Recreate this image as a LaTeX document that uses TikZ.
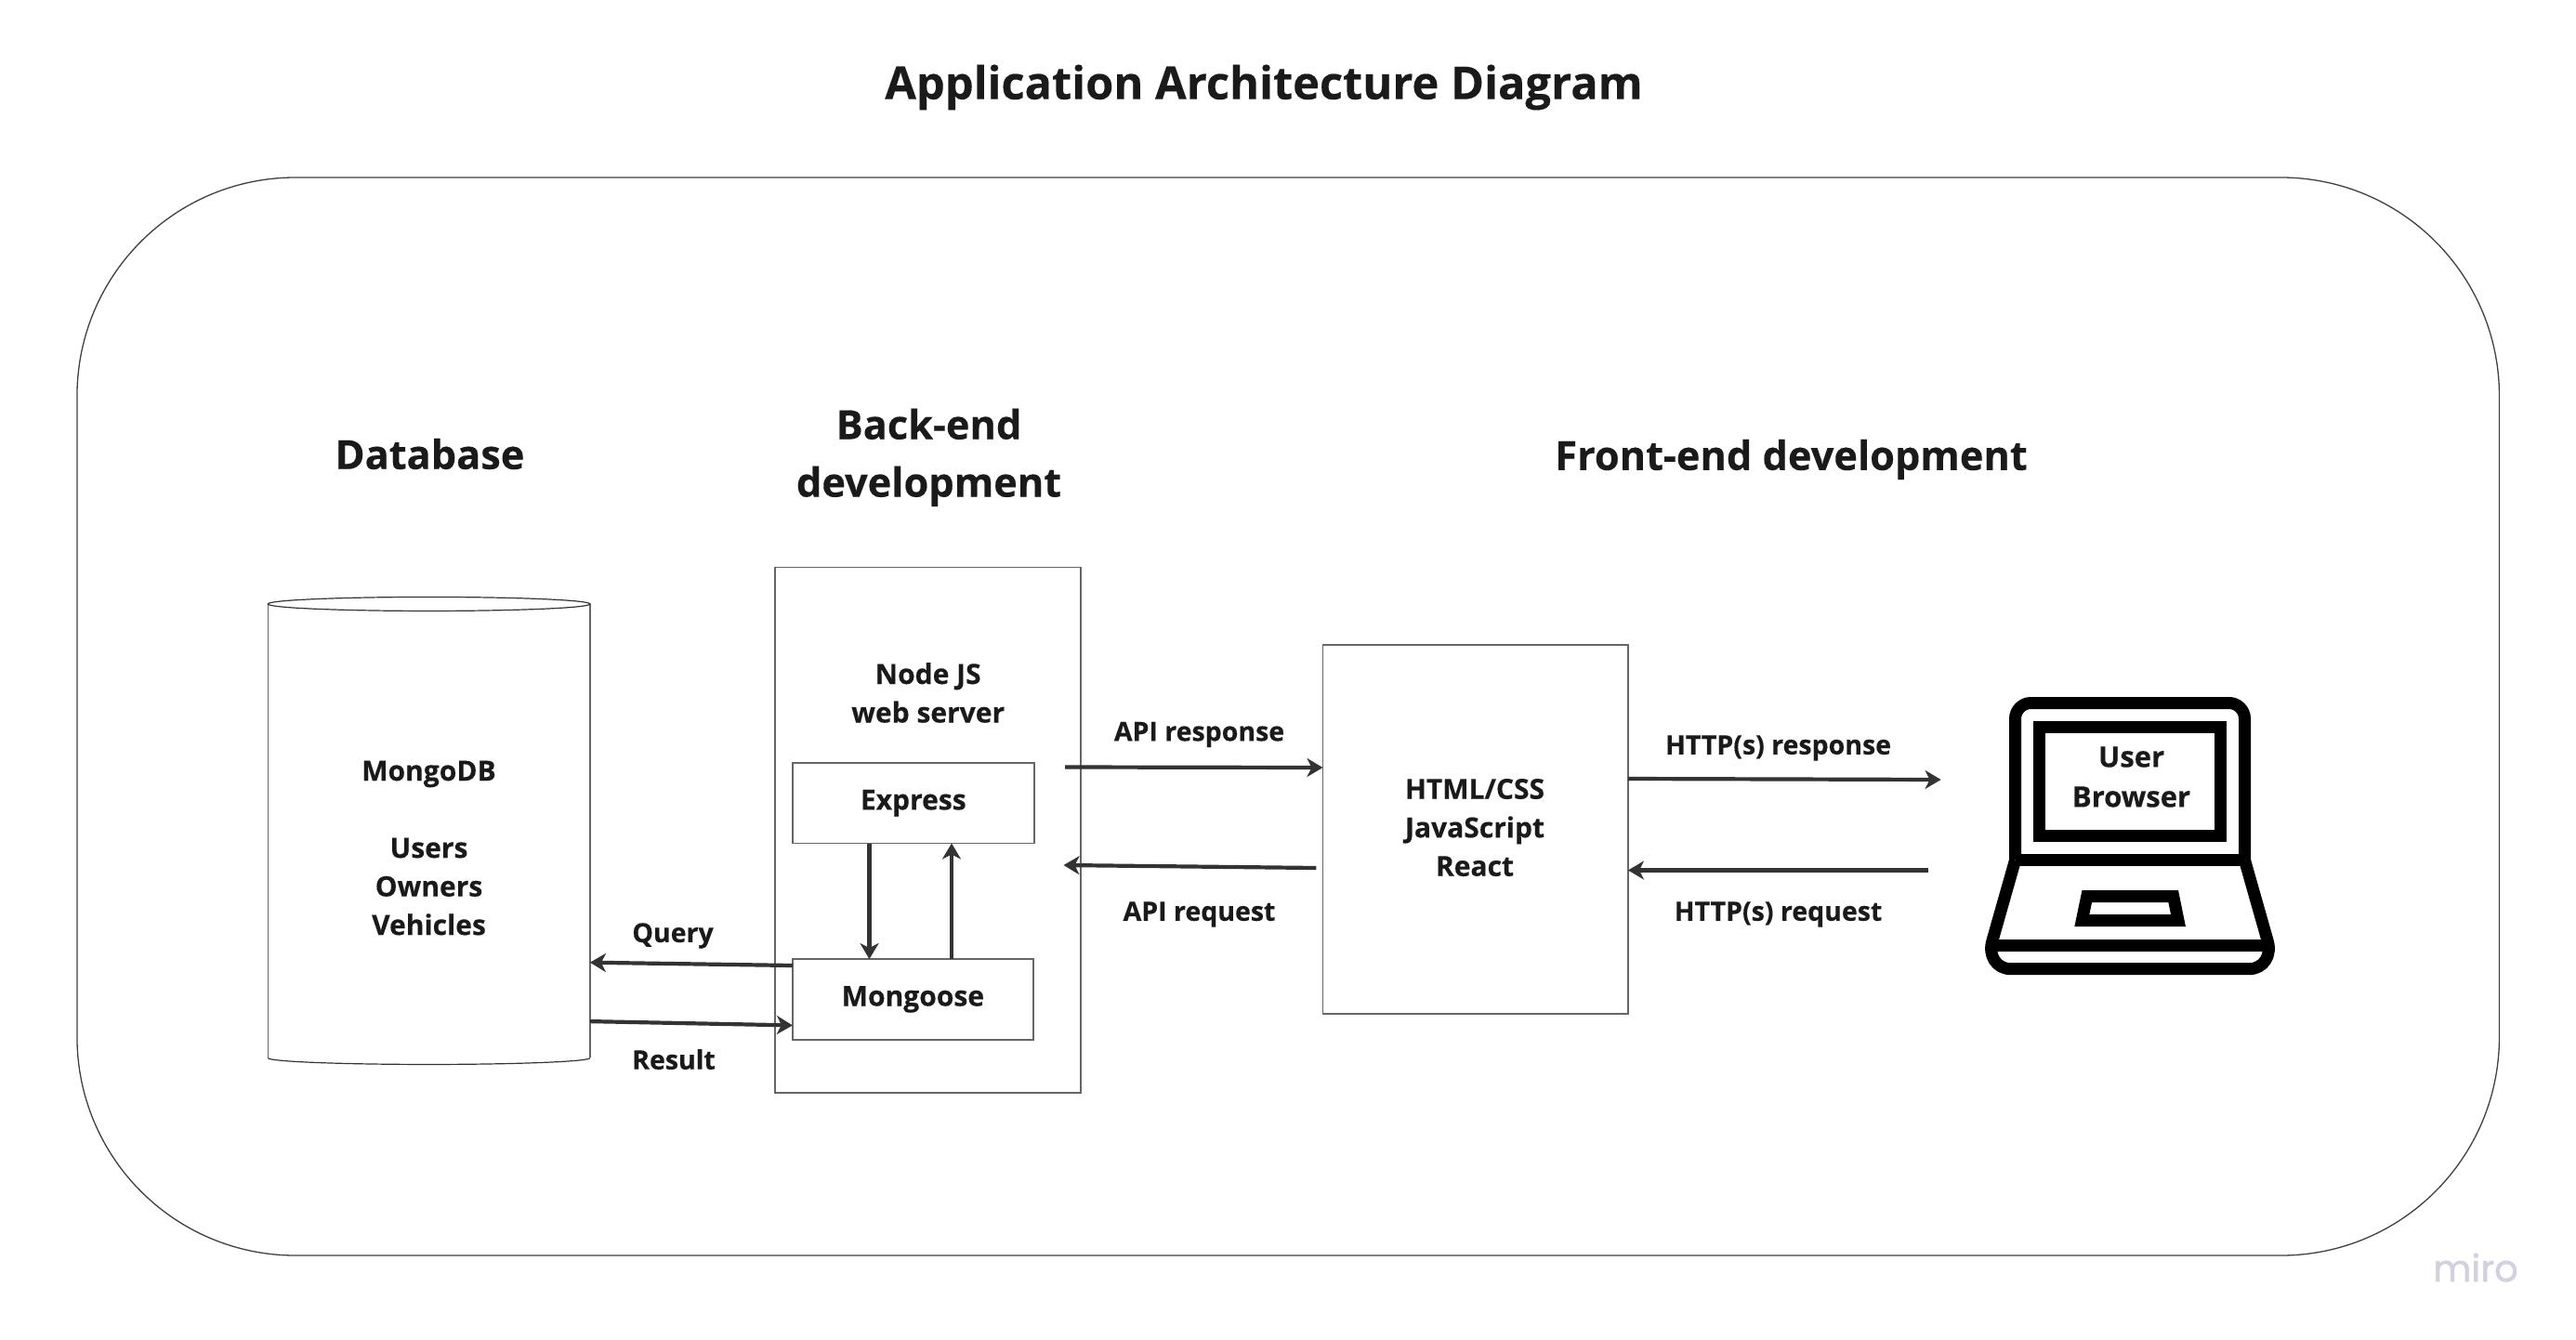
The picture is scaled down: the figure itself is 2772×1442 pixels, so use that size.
\documentclass[tikz,border=0pt]{standalone}
\usepackage{fontspec}
\setmainfont{Open Sans}[BoldFeatures={FakeBold=0.3}]
\newfontfamily\mirofont{Poppins}[FakeBold=1.5]
\usetikzlibrary{arrows.meta}
\definecolor{ink}{HTML}{1A1A1A}
\definecolor{arrowc}{HTML}{333333}
\definecolor{edge}{HTML}{666666}
\definecolor{miroc}{HTML}{D2D2DE}
\tikzset{
  boxnode/.style={draw=edge,line width=1.6pt,fill=none,inner sep=0pt,outer sep=0pt,text=ink,align=center,font=\fontsize{30}{41.5}\selectfont\bfseries},
  txt/.style={inner sep=0pt,outer sep=0pt,text=ink,align=center,font=\fontsize{30}{41.5}\selectfont\bfseries},
  small/.style={inner sep=0pt,outer sep=0pt,text=ink,align=center,font=\fontsize{28.5}{38}\selectfont\bfseries},
  head/.style={inner sep=0pt,outer sep=0pt,text=ink,align=center,font=\fontsize{43.3}{62}\selectfont\bfseries},
  conn/.style={draw=arrowc,line width=4.2pt,-{Stealth[length=17pt,width=20pt,inset=5pt]}},
  icon/.style={draw=black,line width=13pt,line join=miter},
}
\begin{document}
\begin{tikzpicture}[x=1pt,y=-1pt]
\useasboundingbox (0,0) rectangle (2772,1442);
\fill[white] (0,0) rectangle (2772,1442);

% title
\node[inner sep=0pt,text=ink,font=\fontsize{48.8}{60}\selectfont\bfseries] (title) at (1360,94) {Application Architecture Diagram};

% outer frame
\node[draw=black!75,line width=1.3pt,rounded corners=235pt,minimum width=2606.5pt,minimum height=1160pt,inner sep=0pt,outer sep=0pt] (frame) at (1386.2,771) {};

% headings
\node[head] (hdb) at (462.5,488.5) {Database};
\node[head] (hbe) at (999.5,492.3) {Back-end\\development};
\node[head] (hfe) at (1927.5,494.5) {Front-end development};

% database cylinder
\node[minimum width=346.6pt,minimum height=503.5pt,inner sep=0pt,outer sep=0pt] (db) at (461.6,893.7) {};
\draw[edge,line width=1.6pt] ([yshift=-8pt]db.north west) -- ([yshift=7pt]db.south west);
\draw[edge,line width=1.6pt] ([yshift=-8pt]db.north east) -- ([yshift=7pt]db.south east);
\draw[black!80,line width=1.2pt] ([yshift=-8pt]db.north) ellipse (173.3pt and 7.5pt);
\draw[black!80,line width=1.2pt] ([yshift=7pt]db.south west) arc[start angle=180,end angle=360,x radius=173.3pt,y radius=7pt];
\node[txt] (dbtext) at (461.5,912.5) {MongoDB\\[41.5pt]Users\\Owners\\Vehicles};

% back-end
\node[boxnode,minimum width=329pt,minimum height=565.5pt] (backend) at (998.7,893.2) {};
\node[txt] (nodejs) at (998.7,745.5) {Node JS\\web server};
\node[boxnode,minimum width=260pt,minimum height=86.6pt,fill=white] (express) at (982.8,864.2) {Express};
\node[boxnode,minimum width=259pt,minimum height=86.7pt,fill=white] (mongoose) at (982.4,1075.4) {Mongoose};

% front-end box
\node[boxnode,minimum width=328.5pt,minimum height=397.5pt] (html) at (1587.7,892.5) {};
\node[txt] (htmltext) at (1587,890.5) {HTML/CSS\\JavaScript\\React};

% laptop icon
\begin{scope}[yshift=-2pt]
\draw[icon,rounded corners=17pt] (2168.5,923.7) -- (2168.5,754.5) -- (2415.5,754.5) -- (2415.5,923.7);
\draw[icon] (2168.5,923.7) -- (2415.5,923.7);
\draw[icon] (2194.7,780.3) rectangle (2389.7,897.3);
\draw[icon,line join=round] (2168.5,923.7) -- (2144,1010) .. controls (2139,1026) and (2148,1040.7) .. (2164,1040.7) -- (2420,1040.7) .. controls (2436,1040.7) and (2445,1026) .. (2440,1010) -- (2415.5,923.7);
\draw[icon] (2147,1015) -- (2437,1015);
\draw[icon] (2245.7,962.7) -- (2338.7,962.7) -- (2344,988.7) -- (2240.3,988.7) -- cycle;
\end{scope}
\node[txt,font=\fontsize{31}{43}\selectfont\bfseries] (browser) at (2293.5,836) {User\\Browser};

% free ends
\coordinate (resp) at (2088.6,839);
\coordinate (reqs) at (2075,936.5);
\coordinate (apistart) at (1146,825.5);
\coordinate (apiend) at (1144.5,931);

% connectors
\draw[conn] ([xshift=-47.3pt]express.south) -- ([xshift=-46.9pt]mongoose.north);
\draw[conn] ([xshift=41.6pt]mongoose.north) -- ([xshift=41.2pt]express.south);
\draw[conn] ([yshift=36.4pt]mongoose.west) -- ([yshift=-142pt]db.east);
\draw[conn] ([yshift=-205.4pt]db.east) -- ([yshift=-28pt]mongoose.west);
\draw[conn] (apistart) -- ([yshift=66.5pt]html.west);
\draw[conn] ([xshift=-7pt,yshift=-41.5pt]html.west) -- (apiend);
\draw[conn] ([yshift=54.5pt]html.east) -- (resp);
\draw[conn] (reqs) -- ([yshift=-44pt]html.east);

% connector labels
\node[small] (lq) at (724,1007) {Query};
\node[small] (lr) at (725,1140) {Result};
\node[small] (la1) at (1290.5,790.5) {API response};
\node[small] (la2) at (1290.5,984) {API request};
\node[small] (lh1) at (1913.5,805) {HTTP(s) response};
\node[small] (lh2) at (1913.5,984) {HTTP(s) request};

% watermark
\node[inner sep=0pt,text=miroc,font=\fontsize{40}{48}\mirofont\selectfont] (miro) at (2664,1364) {miro};
\end{tikzpicture}
\end{document}
